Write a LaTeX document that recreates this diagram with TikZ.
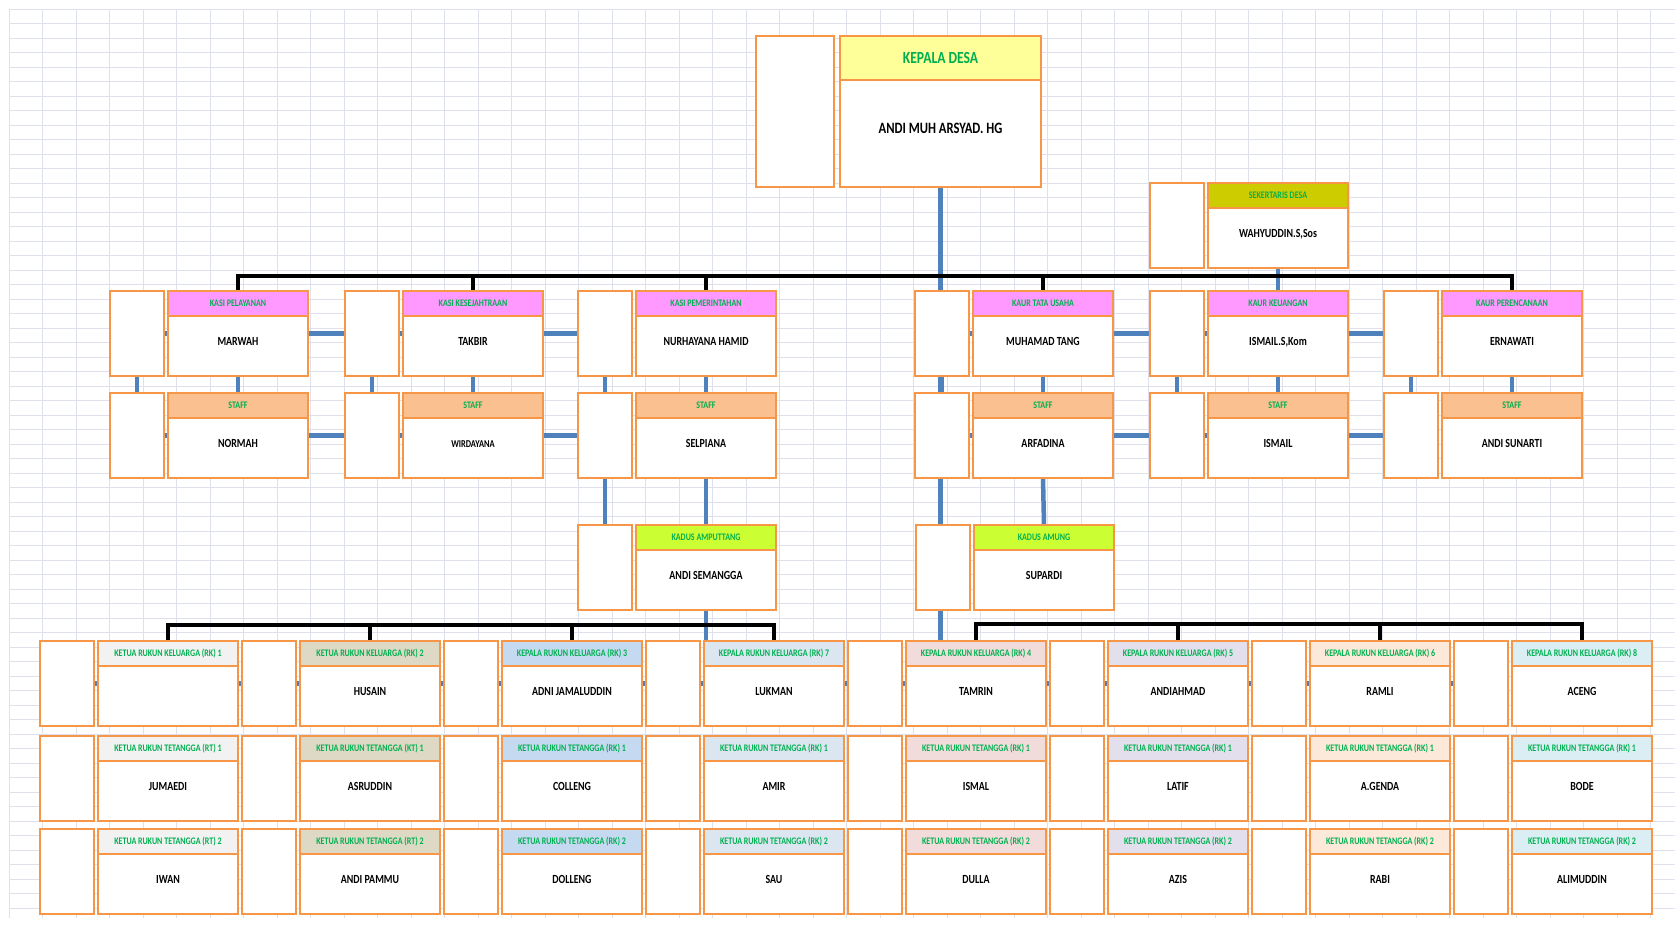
\documentclass[tikz,border=0pt]{standalone}
\usepackage{fontspec}
\setmainfont{Carlito}[FakeStretch=0.8]
\usetikzlibrary{positioning}
\usetikzlibrary{backgrounds}

\definecolor{boxorange}{RGB}{247,150,70}
\definecolor{linkblue}{RGB}{79,129,189}
\definecolor{titlegreen}{RGB}{0,176,80}
\definecolor{gridgray}{RGB}{222,225,235}
\definecolor{kepalafill}{RGB}{255,255,153}
\definecolor{sekfill}{RGB}{204,204,0}
\definecolor{kasifill}{RGB}{255,153,255}
\definecolor{stafffill}{RGB}{250,192,144}
\definecolor{kadusfill}{RGB}{204,255,51}
\definecolor{rkone}{RGB}{242,242,242}
\definecolor{rktwo}{RGB}{221,217,196}
\definecolor{rkthree}{RGB}{197,217,241}
\definecolor{rkseven}{RGB}{220,230,241}
\definecolor{rkfour}{RGB}{242,220,219}
\definecolor{rkfive}{RGB}{228,223,236}
\definecolor{rksix}{RGB}{253,233,217}
\definecolor{rkeight}{RGB}{218,238,243}

\tikzset{
    every node/.append style={
        inner sep=0pt,
        outer sep=0pt
    },
    blankbox/.style={
        draw=boxorange, line width=2pt,
        fill=white,
        anchor=north west,
        minimum width=54, minimum height=85
    },
    headbox/.style={
        draw=boxorange, line width=2pt,
        anchor=north west,
        minimum width=140, minimum height=25,
        text=titlegreen,
        font=\bfseries\fontsize{10}{12}\selectfont,
        text height=6.5pt, text depth=0pt
    },
    namebox/.style={
        draw=boxorange, line width=2pt,
        fill=white,
        minimum width=140, minimum height=60,
        font=\bfseries\fontsize{12.4}{14}\selectfont,
        text height=8pt, text depth=10pt
    },
    busline/.style={
        draw=black,
        line width=3.5pt
    },
    linkline/.style={
        draw=linkblue,
        line width=4.5pt
    },
    gridline/.style={
        draw=gridgray,
        line width=0.8pt
    }
}

% one post: empty box, title bar and name
\newcommand{\orgbox}[6]{%
    \node[blankbox] (#1b) at (#2,#3) {};
    \node[headbox, fill=#4] (#1h) at (#2+58,#3) {#5};
    \node[namebox, below=0pt of #1h] (#1n) {#6};
}

\begin{document}
\begin{tikzpicture}[x=1pt, y=-1pt]
    \useasboundingbox (0,0) rectangle (1675,924);

    % kepala desa
    \node[blankbox, minimum width=78, minimum height=151] (kepb) at (756,36) {};
    \node[headbox, fill=kepalafill, minimum width=201, minimum height=44,
        font=\bfseries\fontsize{17}{20}\selectfont, text height=11pt] (keph) at (840,36) {KEPALA DESA};
    \node[namebox, minimum width=201, minimum height=107, below=0pt of keph,
        font=\bfseries\fontsize{15.8}{18}\selectfont, text height=10pt, text depth=10pt] (kepn) {ANDI MUH ARSYAD. HG};

    \orgbox{sek}{1150}{183}{sekfill}{SEKERTARIS DESA}{WAHYUDDIN.S,Sos}

    % kasi / kaur
    \orgbox{kasi1}{110}{291}{kasifill}{KASI PELAYANAN}{MARWAH}
    \orgbox{kasi2}{345}{291}{kasifill}{KASI KESEJAHTRAAN}{TAKBIR}
    \orgbox{kasi3}{578}{291}{kasifill}{KASI PEMERINTAHAN}{NURHAYANA HAMID}
    \orgbox{kasi4}{915}{291}{kasifill}{KAUR TATA USAHA}{MUHAMAD TANG}
    \orgbox{kasi5}{1150}{291}{kasifill}{KAUR KEUANGAN}{ISMAIL.S,Kom}
    \orgbox{kasi6}{1384}{291}{kasifill}{KAUR PERENCANAAN}{ERNAWATI}

    % staff
    \orgbox{staff1}{110}{393}{stafffill}{STAFF}{NORMAH}
    \orgbox{staff2}{345}{393}{stafffill}{STAFF}{{\fontsize{10.5}{12}\selectfont WIRDAYANA}}
    \orgbox{staff3}{578}{393}{stafffill}{STAFF}{SELPIANA}
    \orgbox{staff4}{915}{393}{stafffill}{STAFF}{ARFADINA}
    \orgbox{staff5}{1150}{393}{stafffill}{STAFF}{ISMAIL}
    \orgbox{staff6}{1384}{393}{stafffill}{STAFF}{ANDI SUNARTI}

    % kadus
    \orgbox{kadus1}{578}{525}{kadusfill}{KADUS AMPUTTANG}{ANDI SEMANGGA}
    \orgbox{kadus2}{916}{525}{kadusfill}{KADUS AMUNG}{SUPARDI}

    % rukun keluarga
    \orgbox{rk1}{40}{641}{rkone}{KETUA RUKUN KELUARGA (RK) 1}{}
    \orgbox{rk2}{242}{641}{rktwo}{KETUA RUKUN KELUARGA (RK) 2}{HUSAIN}
    \orgbox{rk3}{444}{641}{rkthree}{KEPALA RUKUN KELUARGA (RK) 3}{ADNI JAMALUDDIN}
    \orgbox{rk4}{646}{641}{rkseven}{KEPALA RUKUN KELUARGA (RK) 7}{LUKMAN}
    \orgbox{rk5}{848}{641}{rkfour}{KEPALA RUKUN KELUARGA (RK) 4}{TAMRIN}
    \orgbox{rk6}{1050}{641}{rkfive}{KEPALA RUKUN KELUARGA (RK) 5}{ANDIAHMAD}
    \orgbox{rk7}{1252}{641}{rksix}{KEPALA RUKUN KELUARGA (RK) 6}{RAMLI}
    \orgbox{rk8}{1454}{641}{rkeight}{KEPALA RUKUN KELUARGA (RK) 8}{ACENG}

    % rukun tetangga 1
    \orgbox{rta1}{40}{736}{rkone}{KETUA RUKUN TETANGGA (RT) 1}{JUMAEDI}
    \orgbox{rta2}{242}{736}{rktwo}{KETUA RUKUN TETANGGA (KT) 1}{ASRUDDIN}
    \orgbox{rta3}{444}{736}{rkthree}{KETUA RUKUN TETANGGA (RK) 1}{COLLENG}
    \orgbox{rta4}{646}{736}{rkseven}{KETUA RUKUN TETANGGA (RK) 1}{AMIR}
    \orgbox{rta5}{848}{736}{rkfour}{KETUA RUKUN TETANGGA (RK) 1}{ISMAL}
    \orgbox{rta6}{1050}{736}{rkfive}{KETUA RUKUN TETANGGA (RK) 1}{LATIF}
    \orgbox{rta7}{1252}{736}{rksix}{KETUA RUKUN TETANGGA (RK) 1}{A.GENDA}
    \orgbox{rta8}{1454}{736}{rkeight}{KETUA RUKUN TETANGGA (RK) 1}{BODE}

    % rukun tetangga 2
    \orgbox{rtb1}{40}{829}{rkone}{KETUA RUKUN TETANGGA (RT) 2}{IWAN}
    \orgbox{rtb2}{242}{829}{rktwo}{KETUA RUKUN TETANGGA (RT) 2}{ANDI PAMMU}
    \orgbox{rtb3}{444}{829}{rkthree}{KETUA RUKUN TETANGGA (RK) 2}{DOLLENG}
    \orgbox{rtb4}{646}{829}{rkseven}{KETUA RUKUN TETANGGA (RK) 2}{SAU}
    \orgbox{rtb5}{848}{829}{rkfour}{KETUA RUKUN TETANGGA (RK) 2}{DULLA}
    \orgbox{rtb6}{1050}{829}{rkfive}{KETUA RUKUN TETANGGA (RK) 2}{AZIS}
    \orgbox{rtb7}{1252}{829}{rksix}{KETUA RUKUN TETANGGA (RK) 2}{RABI}
    \orgbox{rtb8}{1454}{829}{rkeight}{KETUA RUKUN TETANGGA (RK) 2}{ALIMUDDIN}

    \begin{pgfonlayer}{background}
        \fill[white] (0,0) rectangle (1675,924);
        % sheet grid
        \foreach \gy in {9.3,23.8,...,918} \draw[gridline] (9.3,\gy) -- (1675,\gy);
        \foreach \gx in {9.3,42.8,...,1675} \draw[gridline] (\gx,9.3) -- (\gx,918);

        % blue links
        \draw[linkline] (kepn.south) -- (kepn.south |- rk5h.north);
        \draw[linkline] (sekn.south) -- (kasi5h.north);
        \draw[linkline] (kasi1b.center) -- (kasi3b.west);
        \draw[linkline] (kasi4b.center) -- (kasi6b.west);
        \draw[linkline] (staff1b.center) -- (staff3b.west);
        \draw[linkline] (staff4b.center) -- (staff6b.west);
        \foreach \c in {1,...,6} {
            \draw[linkline] (kasi\c b.center) -- (staff\c b.center);
            \draw[linkline] (kasi\c n.south) -- (staff\c h.north);
        }
        \draw[linkline] (staff3b.center) -- (kadus1b.center);
        \draw[linkline] (staff3n.south) -- (kadus1h.north);
        \draw[linkline] (staff4n.south) -- (kadus2h.north);
        \draw[linkline] (kadus1n.south) -- (kadus1n.south |- rk4h.north);
        \draw[linkline] (rk1b.center) -- (rk8b.center);

        % black bus lines
        \coordinate (topbus) at (0,276);
        \coordinate (leftbus) at (0,625);
        \coordinate (rightbus) at (0,624);
        \draw[busline] (kasi1h.north) |- (topbus -| kasi6h.north) -- (kasi6h.north);
        \foreach \c in {2,3,4} \draw[busline] (topbus -| kasi\c h.north) -- (kasi\c h.north);
        \draw[busline] (rk1h.north) |- (leftbus -| rk4h.north) -- (rk4h.north);
        \foreach \c in {2,3} \draw[busline] (leftbus -| rk\c h.north) -- (rk\c h.north);
        \draw[busline] (rk5h.north) |- (rightbus -| rk8h.north) -- (rk8h.north);
        \foreach \c in {6,7} \draw[busline] (rightbus -| rk\c h.north) -- (rk\c h.north);
    \end{pgfonlayer}
\end{tikzpicture}
\end{document}
